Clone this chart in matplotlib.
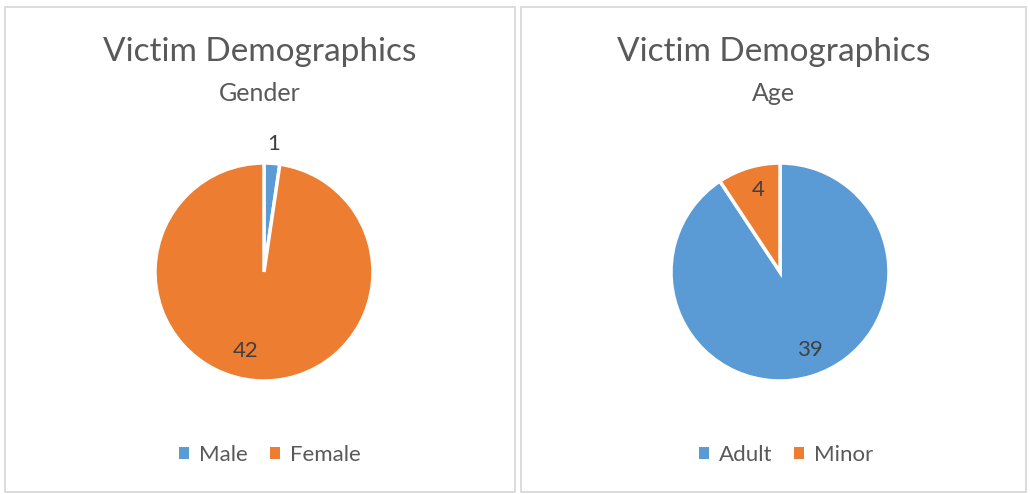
import numpy as np
import matplotlib.pyplot as plt
from matplotlib.patches import Rectangle, Patch

# Data
gender_labels = ['Male', 'Female']
gender_counts = [1, 42]
age_labels = ['Adult', 'Minor']
age_counts = [39, 4]

BLUE = '#5B9BD5'
ORANGE = '#ED7D31'
TEXT = '#595959'
BORDER = '#D9D9D9'

plt.rcParams['font.family'] = ['Lato', 'DejaVu Sans']

W, H = 1030, 494
fig = plt.figure(figsize=(W / 100, H / 100), dpi=100)


def px_box(x0, y0, x1, y1):
    # pixel box (top-left origin) -> figure fraction rect
    return [x0 / W, 1 - y1 / H, (x1 - x0) / W, (y1 - y0) / H]


def draw_panel(x0, x1, subtitle, labels, counts, label_dist, cx):
    # panel border
    fig.patches.append(Rectangle((x0 / W, 1 - 492 / H), (x1 - x0) / W, (492 - 7) / H,
                                 transform=fig.transFigure, fill=False,
                                 edgecolor=BORDER, linewidth=1.3))
    mid = (x0 + x1) / 2
    fig.text(mid / W, 1 - 52 / H, 'Victim Demographics', ha='center', va='center',
             fontsize=24, color=TEXT)
    fig.text(mid / W, 1 - 93 / H, subtitle, ha='center', va='center',
             fontsize=18, color=TEXT)

    r = 109
    cy = 272
    ax = fig.add_axes(px_box(cx - r, cy - r, cx + r, cy + r))
    wedges, _ = ax.pie(counts, colors=[BLUE, ORANGE], startangle=90, counterclock=False,
                       wedgeprops=dict(edgecolor='white', linewidth=2.5))
    ax.set_xlim(-1, 1)
    ax.set_ylim(-1, 1)
    ax.set_aspect('equal')
    ax.axis('off')

    for w, n, d in zip(wedges, counts, label_dist):
        ang = np.deg2rad((w.theta1 + w.theta2) / 2 + d[1])
        ax.text(d[0] * np.cos(ang), d[0] * np.sin(ang),
                str(n), ha='center', va='center', fontsize=16, color='#404040', clip_on=False)

    handles = [Patch(facecolor=c, edgecolor='none') for c in [BLUE, ORANGE]]
    fig.legend(handles, labels, loc='center', bbox_to_anchor=((cx + 6) / W, 1 - 455 / H),
               ncol=2, frameon=False, fontsize=16, handlelength=0.45, handleheight=0.45,
               handletextpad=0.45, columnspacing=1.0, labelcolor=TEXT)


draw_panel(5, 515, 'Gender', gender_labels, gender_counts, [(1.18, 0), (0.74, -9)], 264)
draw_panel(521, 1026, 'Age', age_labels, age_counts, [(0.77, 4), (0.78, -2)], 780)

fig.savefig('out.png', dpi=100, facecolor='white')
